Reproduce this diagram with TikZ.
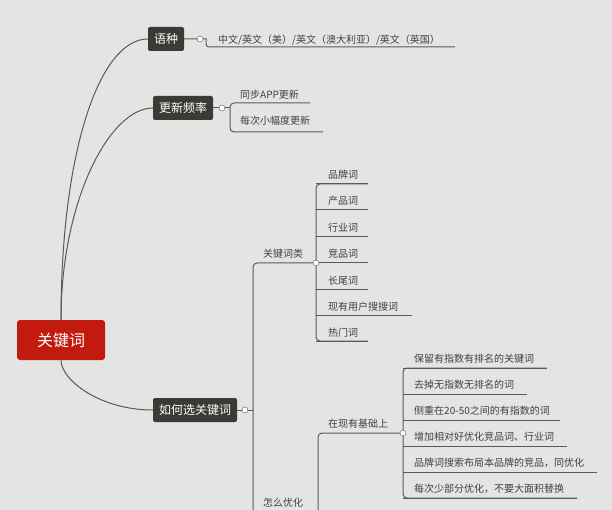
\documentclass[tikz,border=0pt]{standalone}
\usepackage{fontspec}
\setmainfont{Noto Sans CJK SC}
\usetikzlibrary{positioning}
\definecolor{bg}{HTML}{E4E4E4}
\definecolor{topic}{HTML}{3B3B36}
\definecolor{rootred}{HTML}{C21A0E}
\definecolor{wire}{HTML}{5A5A5A}
\begin{document}
\begin{tikzpicture}[x=1pt,y=-1pt,
  every node/.style={font=\fontsize{10}{12}\selectfont,text=black!75},
  topicbox/.style={fill=topic,rounded corners=2pt,text=white,font=\fontsize{12}{14}\selectfont,minimum height=24,inner xsep=6pt},
  leaf/.style={anchor=base west,inner sep=0pt},
  fold/.style={circle,fill=white,draw=wire,line width=0.4pt,inner sep=0pt,minimum size=6},
  wirel/.style={draw=wire,line width=1pt}]
\fill[bg] (0,0) rectangle (612,510);
\useasboundingbox (0,0) rectangle (612,510);
% root and main topics
\node[fill=rootred,rounded corners=3pt,text=white,font=\fontsize{16}{18}\selectfont,minimum width=88,minimum height=40] (root) at (61,340) {关键词};
\node[topicbox] (lang) at (166,39) {语种};
\node[topicbox] (freq) at (183,108) {更新频率};
\node[topicbox] (pick) at (195,410) {如何选关键词};
\draw[wirel] (root.north) ++(0,0) .. controls (61,150) and (100,39) .. (lang.west);
\draw[wirel] (root.north) .. controls (61,200) and (110,108) .. (freq.west);
\draw[wirel] (root.south) .. controls (61,380) and (100,410) .. (pick.west);
% language
\node[leaf] (langtxt) at (218,44) {中文/英文（美）/英文（澳大利亚）/英文（英国）};
\draw[wirel] (lang.east) -- (206,39) [rounded corners=3pt] -- (206,47) -- (455,47);
\node[fold] at (200,39) {};
% update frequency
\node[leaf] (f1) at (240,99) {同步APP更新};
\node[leaf] (f2) at (240,125) {每次小幅度更新};
\draw[wirel] (freq.east) -- (230,108);
\draw[wirel,rounded corners=4pt] (310,103) -- (230,103) -- (230,132) -- (323,132);
\node[fold] at (222,108) {};
% how to choose
\draw[wirel] (pick.east) -- (253,410);
\draw[wirel,rounded corners=4pt] (316,263) -- (253,263) -- (253,512);
\node[fold] at (245,410) {};
\node[leaf] (kind) at (263,258) {关键词类};
\draw[wirel,rounded corners=4pt] (368,184) -- (316,184) -- (316,341) -- (368,341);
\foreach \t/\y/\e [count=\i] in {品牌词/184/368,产品词/210/368,行业词/237/368,竞品词/263/368,长尾词/289/368,现有用户搜搜词/315/412,热门词/341/368}{
  \node[leaf] (k\i) at (328,\y-5) {\t};
  \draw[wirel] (316,\y) -- (\e,\y);
}
\node[fold] at (316,263) {};
\node[leaf] (opt) at (263,506) {怎么优化};
\node[leaf] (base) at (328,427) {在现有基础上};
\draw[wirel,rounded corners=4pt] (403,433) -- (318,433) -- (318,512);
\draw[wirel,rounded corners=4pt] (547,368) -- (403,368) -- (403,498) -- (577,498);
\foreach \t/\y/\e [count=\i] in {保留有指数有排名的关键词/368/547,去掉无指数无排名的词/394/527,侧重在20-50之间的有指数的词/420/560,增加相对好优化竞品词、行业词/446/567,品牌词搜索布局本品牌的竞品，同优化/472/597,每次少部分优化，不要大面积替换/498/577}{
  \node[leaf] (b\i) at (414,\y-6) {\t};
  \draw[wirel] (403,\y) -- (\e,\y);
}
\node[fold] at (403,433) {};
\end{tikzpicture}
\end{document}
